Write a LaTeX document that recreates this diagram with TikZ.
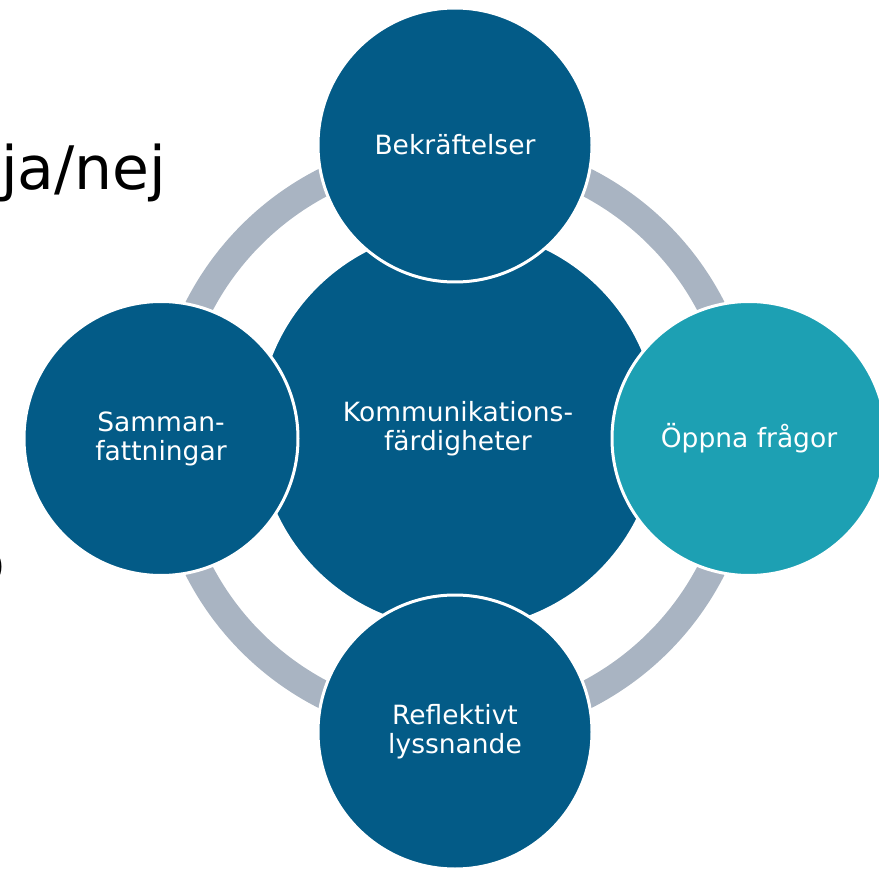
\documentclass[tikz,border=0pt]{standalone}
\usepackage{fontspec}
\setmainfont{DejaVu Sans}
\usetikzlibrary{positioning}
\definecolor{hubblue}{RGB}{3,91,135}
\definecolor{tealblue}{RGB}{29,160,179}
\definecolor{ringgray}{RGB}{169,180,194}

\begin{document}
\begin{tikzpicture}[x=1pt,y=-1pt,
        sat/.style={circle,draw=white,line width=3pt,fill=hubblue,text=white,
            minimum size=274pt,inner sep=0pt,outer sep=0pt,align=center,
            font=\fontsize{26.5}{29}\selectfont},
        hubcircle/.style={sat,minimum size=402pt},
        ring/.style={draw=ringgray,line width=28pt},
        slide/.style={anchor=base west,inner sep=0pt,text=black,
            font=\fontsize{60}{72}\selectfont}]
        \useasboundingbox (0,0) rectangle (879,869);
        \clip (0,0) rectangle (879,869);
        \coordinate (c) at (455,438.5);
        \node[slide] (janej) at (1,190) {ja/nej};
        \node[slide,anchor=base east] (frag) at (5,583) {o};
        \draw[ring] (c) circle (288);
        \node[hubcircle] (komm) at (458,429) {Kommunikations-\\färdigheter};
        \node[sat,above=156.5pt of c] (bekr) {Bekräftelser};
        \node[sat,right=157pt of c,fill=tealblue] (oppna) {Öppna frågor};
        \node[sat,below=156.5pt of c] (refl) {Reflektivt\\lyssnande};
        \node[sat,left=157pt of c] (samm) {Samman-\\fattningar};
    \end{tikzpicture}
\end{document}
